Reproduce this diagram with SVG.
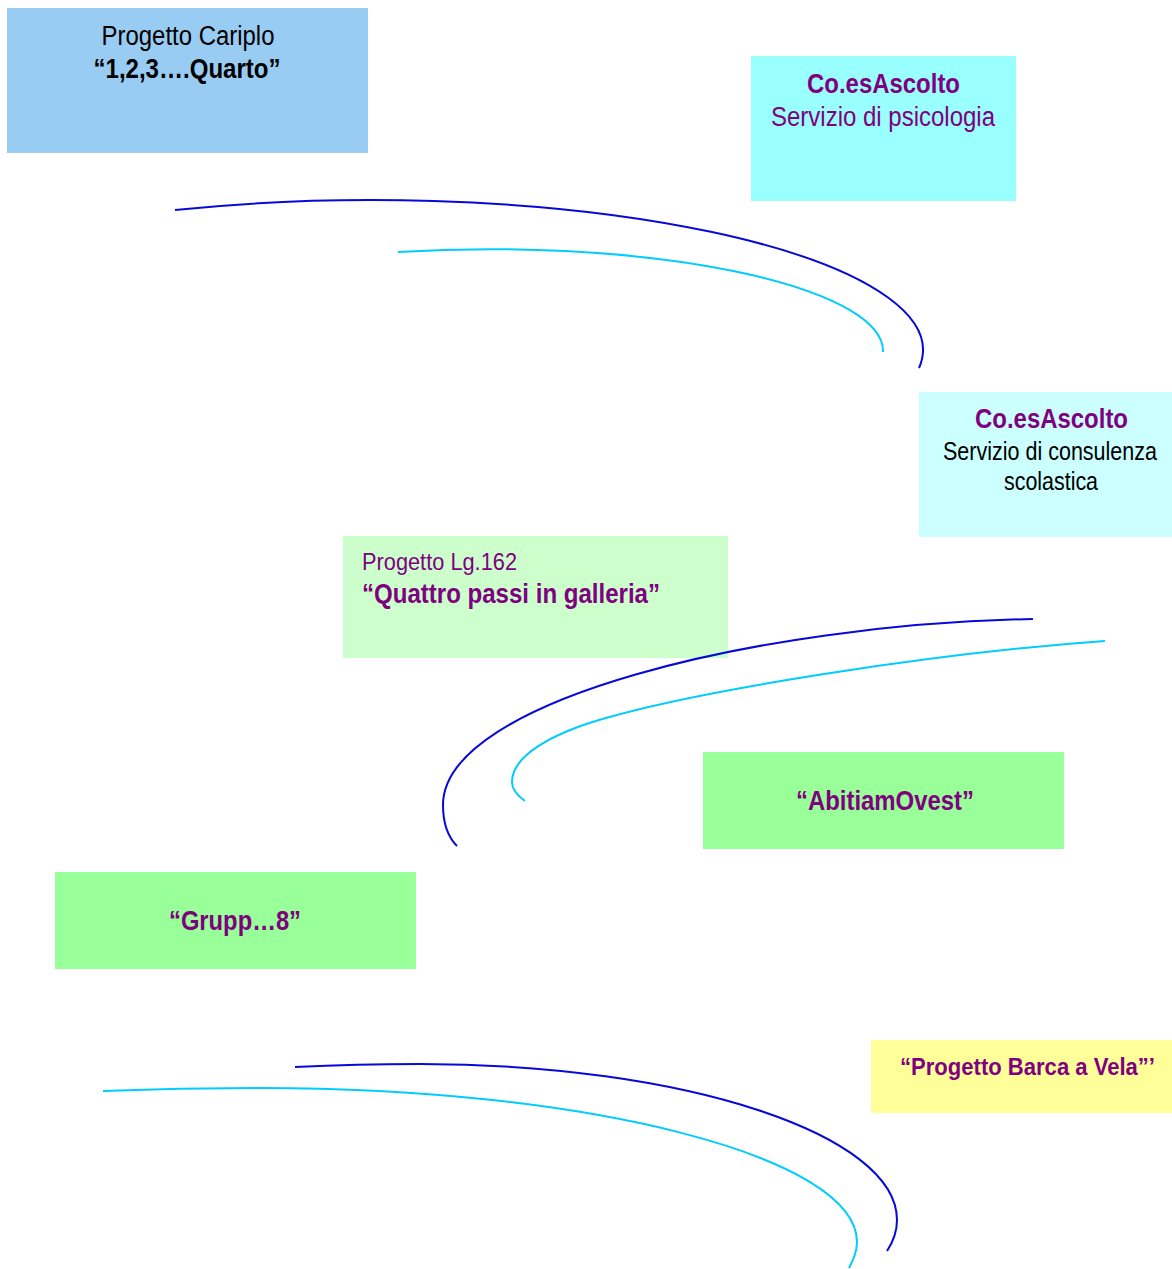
<svg xmlns="http://www.w3.org/2000/svg" width="1172" height="1269" viewBox="0 0 1172 1269">
<style>
text{font-family:"Liberation Sans Narrow","Arial Narrow","Liberation Sans",Arial,sans-serif;font-stretch:condensed}
.c{text-anchor:middle}
.b{font-weight:bold}
.p{fill:#800080}
.k{fill:#000000}
.dk{fill:none;stroke:#0808D8;stroke-width:2}
.cy{fill:none;stroke:#00CCFF;stroke-width:2}
</style>
<rect width="1172" height="1269" fill="#FFFFFF"/>
<g id="cariplo">
<rect x="7" y="8" width="361" height="145" fill="#99CCF2"/>
<text class="c k" x="188" y="45" font-size="27" textLength="173" lengthAdjust="spacingAndGlyphs">Progetto Cariplo</text>
<text class="c k b" x="187" y="78" font-size="27" textLength="187" lengthAdjust="spacingAndGlyphs">“1,2,3….Quarto”</text>
</g>
<g id="coes-psicologia">
<rect x="751" y="56" width="265" height="145" fill="#99FFFF"/>
<text class="c p b" x="883.5" y="93" font-size="27" textLength="153" lengthAdjust="spacingAndGlyphs">Co.esAscolto</text>
<text class="c p" x="883" y="126" font-size="27" textLength="224" lengthAdjust="spacingAndGlyphs">Servizio di psicologia</text>
</g>
<g id="coes-consulenza">
<rect x="919" y="392" width="253" height="145" fill="#CCFFFF"/>
<text class="c p b" x="1051.5" y="428" font-size="27" textLength="153" lengthAdjust="spacingAndGlyphs">Co.esAscolto</text>
<text class="c k" x="1050" y="460" font-size="25" textLength="214" lengthAdjust="spacingAndGlyphs">Servizio di consulenza</text>
<text class="c k" x="1051" y="490" font-size="25" textLength="94" lengthAdjust="spacingAndGlyphs">scolastica</text>
</g>
<g id="lg162">
<rect x="343" y="536" width="385" height="122" fill="#CCFFCC"/>
<text class="p" x="362" y="570" font-size="24" textLength="155" lengthAdjust="spacingAndGlyphs">Progetto Lg.162</text>
<text class="p b" x="362" y="603" font-size="27" textLength="298" lengthAdjust="spacingAndGlyphs">“Quattro passi in galleria”</text>
</g>
<g id="abitiamovest">
<rect x="703" y="752" width="361" height="97" fill="#99FF99"/>
<text class="c p b" x="885" y="810" font-size="27" textLength="178" lengthAdjust="spacingAndGlyphs">“AbitiamOvest”</text>
</g>
<g id="grupp8">
<rect x="55" y="872" width="361" height="97" fill="#99FF99"/>
<text class="c p b" x="235" y="930" font-size="27" textLength="132" lengthAdjust="spacingAndGlyphs">“Grupp…8”</text>
</g>
<g id="barca-a-vela">
<rect x="871" y="1040" width="301" height="73" fill="#FFFF99"/>
<text class="p b" x="900" y="1075" font-size="24" textLength="255" lengthAdjust="spacingAndGlyphs">“Progetto Barca a Vela”’</text>
</g>
<g id="connectors">
<path class="dk" d="M175,210 A551,150 0 0 1 919,368"/>
<path class="cy" d="M398,252 A393,102 0 0 1 883,352"/>
<path class="dk" d="M1033,619 C760,624 443,700 443,805 C443,825 449,838 457,846"/>
<path class="cy" d="M1105,641 C935,653 699,690 599,720 C554,733.5 512,755 512,782 C512,790 518,796 525,801"/>
<path class="dk" d="M295,1067 C336,1065 378,1064 420,1064 C683,1064 897,1134 897,1220 C897,1232 893,1242 887,1251"/>
<path class="cy" d="M103,1091 C155,1089 208,1088 260,1088 C590,1088 857,1157 857,1242 C857,1252 853,1260 849,1268"/>
</g>
</svg>
